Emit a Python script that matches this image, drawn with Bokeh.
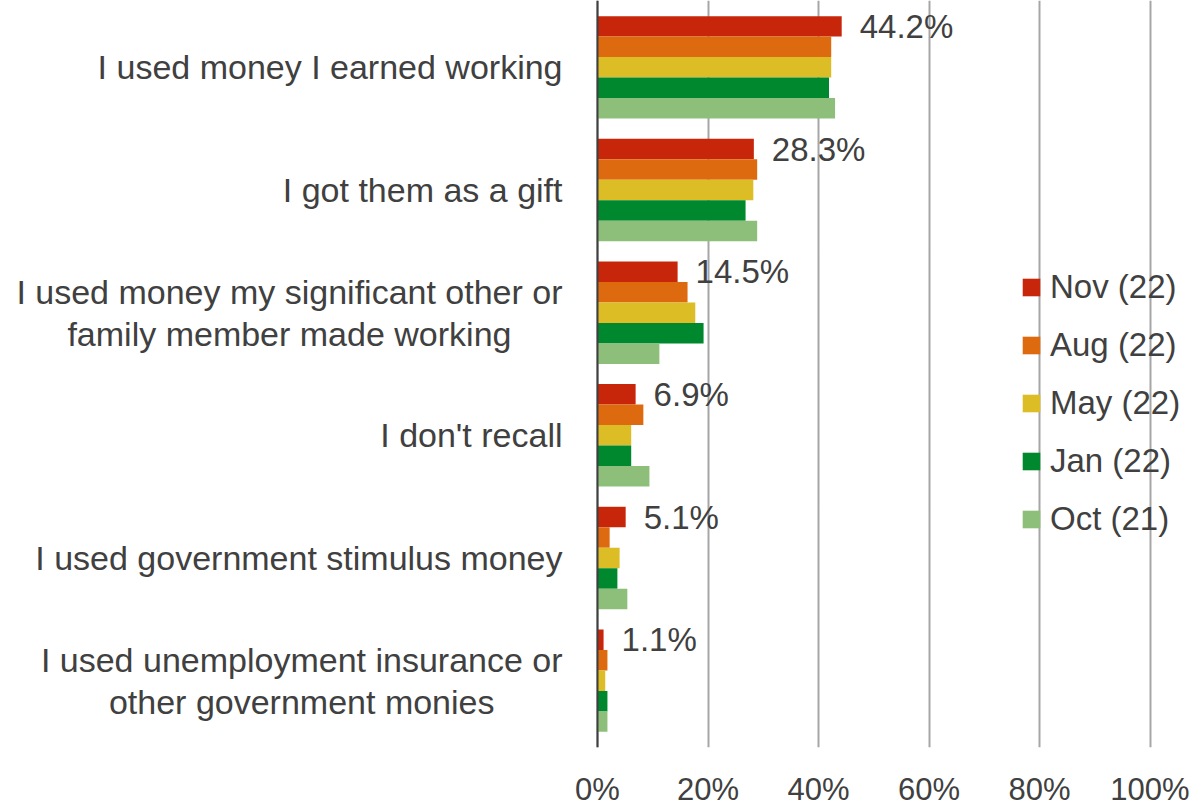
from bokeh.plotting import figure
from bokeh.models import FactorRange, Range1d, FixedTicker, ColumnDataSource, Legend, LegendItem, Span
from bokeh.transform import dodge
from bokeh.core.properties import value
from bokeh.embed import file_html
from bokeh.resources import INLINE

categories = [
    "I used money I earned working",
    "I got them as a gift",
    "I used money my significant other or\nfamily member made working",
    "I don't recall",
    "I used government stimulus money",
    "I used unemployment insurance or\nother government monies",
]
series_names = ["Nov (22)", "Aug (22)", "May (22)", "Jan (22)", "Oct (21)"]
nov = [44.2, 28.3, 14.5, 6.9, 5.1, 1.1]
aug = [42.3, 28.9, 16.3, 8.3, 2.2, 1.8]
may = [42.3, 28.2, 17.7, 6.1, 4.0, 1.4]
jan = [41.9, 26.8, 19.2, 6.1, 3.6, 1.8]
oct_ = [43.0, 28.9, 11.2, 9.4, 5.4, 1.8]
colors = ["#C8260A", "#DE6A10", "#DCBD26", "#00882E", "#8DBF7A"]
tick_values = [0, 20, 40, 60, 80, 100]
tick_labels = ["0%", "20%", "40%", "60%", "80%", "100%"]

FONT = "Liberation Sans"
TXT = "#404040"
CAT_PX = 34
LABEL_GAP = 35  # px between category text block and the axis line

# approximate Arial / Liberation Sans advance widths (per em), used to centre wrapped lines
_W = {" ": .278, "I": .278, "a": .556, "b": .556, "c": .5, "d": .556, "e": .556, "f": .278,
      "g": .556, "h": .556, "i": .222, "k": .5, "l": .222, "m": .833, "n": .556, "o": .556,
      "p": .556, "r": .333, "s": .5, "t": .278, "u": .556, "v": .5, "w": .722, "y": .5, "'": .191}


def block_w(label):
    return max(sum(_W.get(ch, .556) for ch in s) for s in label.split("\n")) * CAT_PX


src = ColumnDataSource(dict(cat=categories, nov=nov, aug=aug, may=may, jan=jan, oct=oct_,
                            lbl=[f"{v:.1f}%" for v in nov],
                            zero=[0] * len(categories),
                            cat_off=[-(LABEL_GAP + block_w(c) / 2) for c in categories]))

PX_PER_UNIT = 5.525
AXIS_PX = 597
p = figure(width=1198, height=809, output_backend="svg", toolbar_location=None,
           y_range=FactorRange(factors=list(reversed(categories)), range_padding=0.045,
                               range_padding_units="absolute"),
           x_range=Range1d(-AXIS_PX / PX_PER_UNIT, (1198 - AXIS_PX) / PX_PER_UNIT),
           min_border_left=0, min_border_right=0, min_border_top=0, min_border_bottom=57)
p.outline_line_color = None
p.background_fill_color = "white"

bw = 0.167
offsets = [2 * bw, bw, 0.0, -bw, -2 * bw]
cols = ["nov", "aug", "may", "jan", "oct"]
items = []
for c, off, col, name in zip(cols, offsets, colors, series_names):
    r = p.hbar(y=dodge("cat", off, range=p.y_range), right=c, left=0, height=bw,
               source=src, fill_color=col, line_color=None)
    items.append(LegendItem(label=name, renderers=[r]))

# value labels
p.text(x="nov", y=dodge("cat", offsets[0], range=p.y_range), text="lbl", source=src,
       x_offset=18, text_baseline="middle", text_align="left",
       text_font=value(FONT), text_font_size="33px", text_color=TXT)

# category labels (centred lines, block right-aligned to the axis)
p.text(x="zero", y="cat", text="cat", source=src, x_offset="cat_off",
       text_baseline="middle", text_align="center", text_line_height=1.1,
       text_font=value(FONT), text_font_size=f"{CAT_PX}px", text_color=TXT)

# value axis line
p.add_layout(Span(location=0, dimension="height", line_color="#3F3F3F", line_width=2))

# grid & x axis
p.ygrid.grid_line_color = None
p.xgrid.grid_line_color = "#A6A6A6"
p.xgrid.grid_line_width = 2
p.xaxis.ticker = FixedTicker(ticks=tick_values)
p.xaxis.major_label_overrides = {v: l for v, l in zip(tick_values, tick_labels)}
p.xaxis.axis_line_color = None
p.xaxis.major_tick_line_color = None
p.xaxis.minor_tick_line_color = None
p.xaxis.major_tick_out = 0
p.xaxis.minor_tick_out = 0
p.xaxis.major_label_standoff = 24
p.xaxis.major_label_text_font = FONT
p.xaxis.major_label_text_font_size = "31px"
p.xaxis.major_label_text_color = TXT
p.yaxis.visible = False

legend = Legend(items=items, location=(AXIS_PX + 423, 209), orientation="vertical",
                glyph_width=22, glyph_height=22, label_standoff=8, spacing=20,
                padding=0, margin=0, border_line_color=None, background_fill_alpha=0,
                label_text_font=FONT, label_text_font_size="33px", label_text_color=TXT)
p.add_layout(legend)

open("out.html", "w").write(file_html(p, INLINE))
